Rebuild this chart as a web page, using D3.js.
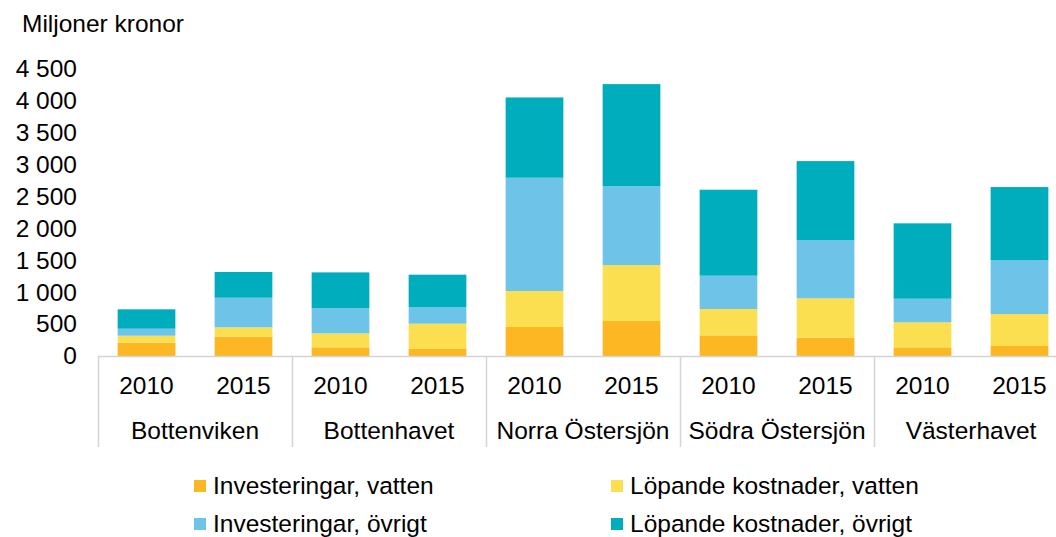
<!DOCTYPE html>
<html>
<head>
<meta charset="utf-8">
<script src="https://cdn.jsdelivr.net/npm/d3@7"></script>
<style>
  html, body { margin: 0; padding: 0; background: #fff; }
  svg { display: block; font-family: "Liberation Sans", Arial, sans-serif; }
</style>
</head>
<body>
<svg id="chart" width="1056" height="537"></svg>
<script>
// Regions and years on the two-level category axis
const regions = ["Bottenviken", "Bottenhavet", "Norra Östersjön", "Södra Östersjön", "Västerhavet"];
const years = ["2010", "2015"];

// Series names (stack order, bottom to top)
const seriesNames = ["Investeringar, vatten", "Löpande kostnader, vatten", "Investeringar, övrigt", "Löpande kostnader, övrigt"];

// Values in miljoner kronor, ordered region by region, 2010 then 2015
const investeringarVatten = [208, 303, 136, 110, 455, 549, 324, 287, 136, 157];
const lopandeVatten       = [110, 146, 219, 397, 564, 877, 413, 617, 392, 501];
const investeringarOvrigt = [110, 465, 397, 261, 1776, 1239, 522, 914, 370, 842];
const lopandeOvrigt       = [304, 403, 559, 507, 1259, 1598, 1348, 1238, 1182, 1149];

const yTicks = [0, 500, 1000, 1500, 2000, 2500, 3000, 3500, 4000, 4500];
const colors = ["#FDB722", "#FCDF50", "#6EC4E8", "#00ADBD"];

const svg = d3.select("#chart");
const fontSize = 24.5;

// Build rows for stacking
const seriesArrays = [investeringarVatten, lopandeVatten, investeringarOvrigt, lopandeOvrigt];
const rows = [];
regions.forEach((r, ri) => {
  years.forEach((yr, yi) => {
    const idx = ri * years.length + yi;
    const row = { region: r, year: yr };
    seriesNames.forEach((s, si) => { row[s] = seriesArrays[si][idx]; });
    rows.push(row);
  });
});

const stacked = d3.stack().keys(seriesNames)(rows);

// Scales
const x0 = d3.scaleBand().domain(regions).range([98, 1068]).padding(0);
const p = 0.405;
const x1 = d3.scaleBand().domain(years).range([0, x0.bandwidth()]).paddingInner(p).paddingOuter(p / 2);
const y = d3.scaleLinear().domain([0, 4500]).range([356, 69]);

// Y axis labels
const locale = d3.formatLocale({ decimal: ",", thousands: " ", grouping: [3], currency: ["", " kr"] });
const fmt = locale.format(",d");
const yAxis = d3.axisLeft(y).tickValues(yTicks).tickFormat(fmt).tickSize(0).tickPadding(21);
const gy = svg.append("g").attr("transform", "translate(98,0)").call(yAxis);
gy.select(".domain").remove();
gy.selectAll("text").attr("font-size", fontSize).attr("fill", "#000").attr("font-family", "Liberation Sans, Arial, sans-serif");

// Unit title
svg.append("text").attr("x", 22).attr("y", 32).attr("font-size", fontSize).attr("fill", "#000").text("Miljoner kronor");

// Bars
svg.append("g").selectAll("g").data(stacked).join("g")
  .attr("fill", (d, i) => colors[i])
  .selectAll("rect").data(d => d).join("rect")
  .attr("x", d => x0(d.data.region) + x1(d.data.year))
  .attr("width", x1.bandwidth())
  .attr("y", d => y(d[1]))
  .attr("height", d => y(d[0]) - y(d[1]));

// Category axis: baseline and group separators
const axisG = svg.append("g");
axisG.append("line")
  .attr("x1", 98).attr("x2", 1056).attr("y1", y(0) + 0.5).attr("y2", y(0) + 0.5)
  .attr("stroke", "#d4d4d4").attr("stroke-width", 1.5);
const seps = regions.map(r => x0(r)).concat([x0.range()[1]]);
axisG.selectAll("line.sep").data(seps).join("line")
  .attr("class", "sep")
  .attr("x1", d => d + 0.5).attr("x2", d => d + 0.5)
  .attr("y1", y(0)).attr("y2", 447)
  .attr("stroke", "#d4d4d4").attr("stroke-width", 1.5);

// Year labels
axisG.selectAll("text.year").data(rows).join("text")
  .attr("class", "year")
  .attr("x", d => x0(d.region) + x1(d.year) + x1.bandwidth() / 2)
  .attr("y", 394)
  .attr("text-anchor", "middle")
  .attr("font-size", fontSize).attr("fill", "#000")
  .text(d => d.year);

// Region labels
axisG.selectAll("text.region").data(regions).join("text")
  .attr("class", "region")
  .attr("x", d => x0(d) + x0.bandwidth() / 2)
  .attr("y", 439)
  .attr("text-anchor", "middle")
  .attr("font-size", fontSize).attr("fill", "#000")
  .text(d => d);

// Legend: two columns, two rows
const legendPos = [
  { x: 194, y: 486 }, { x: 611, y: 486 },
  { x: 194, y: 524 }, { x: 611, y: 524 }
];
const lg = svg.append("g").selectAll("g").data(seriesNames).join("g")
  .attr("transform", (d, i) => `translate(${legendPos[i].x},${legendPos[i].y})`);
lg.append("rect").attr("x", 0).attr("y", -6).attr("width", 12).attr("height", 12)
  .attr("fill", (d, i) => colors[i]);
lg.append("text").attr("x", 19).attr("y", 8)
  .attr("font-size", fontSize).attr("fill", "#000")
  .text(d => d);
</script>
</body>
</html>
